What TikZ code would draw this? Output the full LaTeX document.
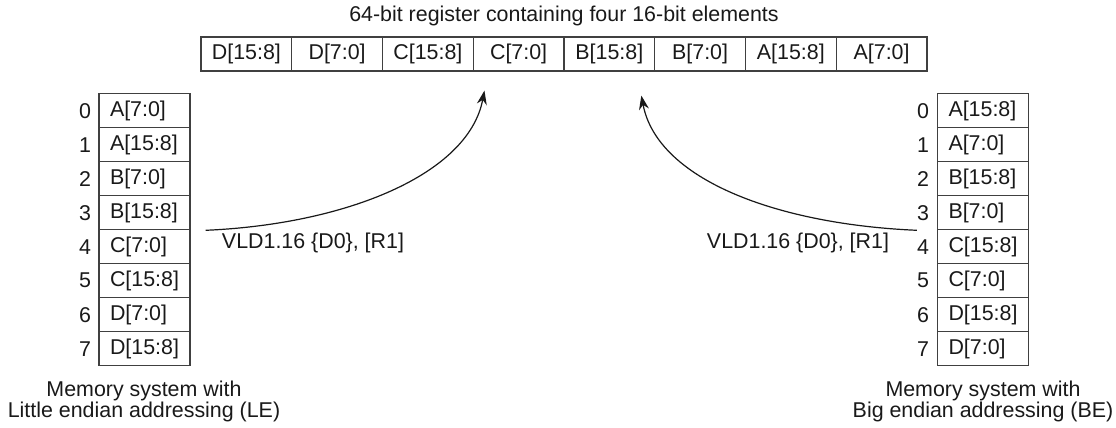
\documentclass[tikz,border=0pt]{standalone}
\usepackage{fontspec}
\setmainfont{Liberation Sans}
\usetikzlibrary{arrows.meta}

\tikzset{
  txt/.style={font=\fontsize{10.7}{10.5}\selectfont, text=black!90},
  regcell/.style={txt, draw=black!75, line width=0.6pt, minimum width=45.375pt, minimum height=17pt, inner sep=0pt},
  memcell/.style={txt, draw=black!75, line width=0.6pt, minimum height=17pt, text width=34.5pt, inner xsep=5.5pt, inner ysep=0pt, align=left},
  addr/.style={txt},
  load/.style={-{Stealth[length=7pt,width=5pt]}, line width=0.6pt, black!90},
}

\begin{document}
\begin{tikzpicture}[x=0.5pt, y=-0.5pt]
  \useasboundingbox (0,0) rectangle (1116,428);
  % register
  \node[txt] (title) at (564,16) {64-bit register containing four 16-bit elements};
  \foreach \lab [count=\i] in {D[15:8],D[7:0],C[15:8],C[7:0],B[15:8],B[7:0],A[15:8],A[7:0]}
    \node[regcell] (r\i) at ({201+90.75*(\i-0.5)},54) {\lab};

  % little endian memory
  \foreach \lab [count=\i from 0] in {A[7:0],A[15:8],B[7:0],B[15:8],C[7:0],C[15:8],D[7:0],D[15:8]} {
    \node[memcell] (le\i) at (144.5,{110.7+34*\i}) {\lab};
    \node[addr] (lea\i) at (85,{110.7+34*\i}) {\i};
  }
  \node[txt, align=center] (lecap) at (144,401) {Memory system with\\Little endian addressing (LE)};

  % big endian memory
  \foreach \lab [count=\i from 0] in {A[15:8],A[7:0],B[15:8],B[7:0],C[15:8],C[7:0],D[15:8],D[7:0]} {
    \node[memcell] (be\i) at (983,{110.7+34*\i}) {\lab};
    \node[addr] (bea\i) at (923,{110.7+34*\i}) {\i};
  }
  \node[txt, align=center] (becap) at (983,401) {Memory system with\\Big endian addressing (BE)};

  % loads
  \coordinate (les) at ([xshift=7.5pt]le3.south east);
  \coordinate (lee) at ([xshift=5.9pt,yshift=-9.5pt]r4.south west);
  \draw[load] (les) .. controls +(70pt,3pt) and +(-8pt,-42pt) .. (lee);
  \node[txt] (lelbl) at (313,243) {VLD1.16 \{D0\}, [R1]};

  \coordinate (bes) at ([xshift=-10pt]be3.south west);
  \coordinate (bee) at ([xshift=-7pt,yshift=-12pt]r5.south east);
  \draw[load] (bes) .. controls +(-70pt,3pt) and +(8pt,-42pt) .. (bee);
  \node[txt] (belbl) at (798,243) {VLD1.16 \{D0\}, [R1]};
\end{tikzpicture}
\end{document}
